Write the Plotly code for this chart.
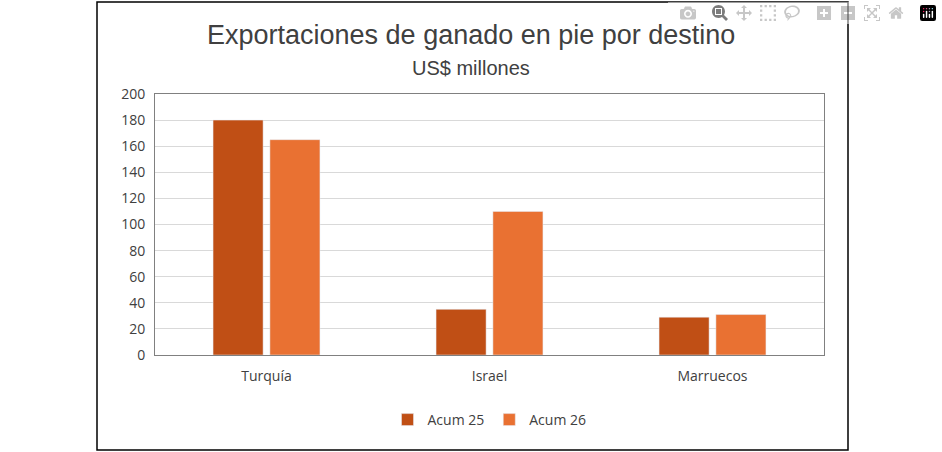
import plotly.graph_objects as go

categories = ["Turquía", "Israel", "Marruecos"]
acum25 = [180, 35, 29]
acum26 = [165, 110, 31]

W, H = 942, 452
L, R, T, B = 155, 118, 94, 97
pw, ph = W - L - R, H - T - B

def py(ypix):
    return (H - B - ypix) / ph

def px(xpix):
    return (xpix - L) / pw

fig = go.Figure()
fig.add_bar(name="Acum 25", x=categories, y=acum25, marker_color="#C04F15")
fig.add_bar(name="Acum 26", x=categories, y=acum26, marker_color="#E97132")

font = "Open Sans, Lato, sans-serif"
fig.update_layout(
    width=W, height=H, margin=dict(l=L, r=R, t=T, b=B),
    paper_bgcolor="white", plot_bgcolor="white",
    barmode="group", bargap=0.49, bargroupgap=0.12,
    font=dict(family=font, size=14, color="#404040"),
    yaxis=dict(range=[0, 200], dtick=20, gridcolor="#D9D9D9", gridwidth=1,
               showline=True, linecolor="#808080", mirror=True, zeroline=False,
               tickfont=dict(size=14, color="#404040"), ticks="", ticklabelstandoff=6),
    xaxis=dict(showline=True, linecolor="#808080", mirror=True,
               tickfont=dict(size=14, color="#404040"), ticks="", ticklabelstandoff=8),
    legend=dict(orientation="h", x=0.5, xanchor="center", y=py(420), yanchor="middle",
                font=dict(size=14, color="#404040")),
    annotations=[
        dict(text="Exportaciones de ganado en pie por destino", xref="paper", yref="paper",
             x=px(471), y=py(35), xanchor="center", yanchor="middle", showarrow=False,
             font=dict(family="Liberation Sans Narrow, Arial Narrow, sans-serif", size=27, color="#404040")),
        dict(text="US$ millones", xref="paper", yref="paper",
             x=px(471), y=py(68), xanchor="center", yanchor="middle", showarrow=False,
             font=dict(family="Liberation Sans Narrow, Arial Narrow, sans-serif", size=20, color="#404040")),
    ],
    shapes=[dict(type="rect", xref="paper", yref="paper",
                 x0=px(97), x1=px(848), y0=py(450), y1=py(2),
                 line=dict(color="black", width=1.5))],
)
fig.write_html("out.html", post_script="document.body.style.margin='0';document.body.style.overflow='hidden';")
